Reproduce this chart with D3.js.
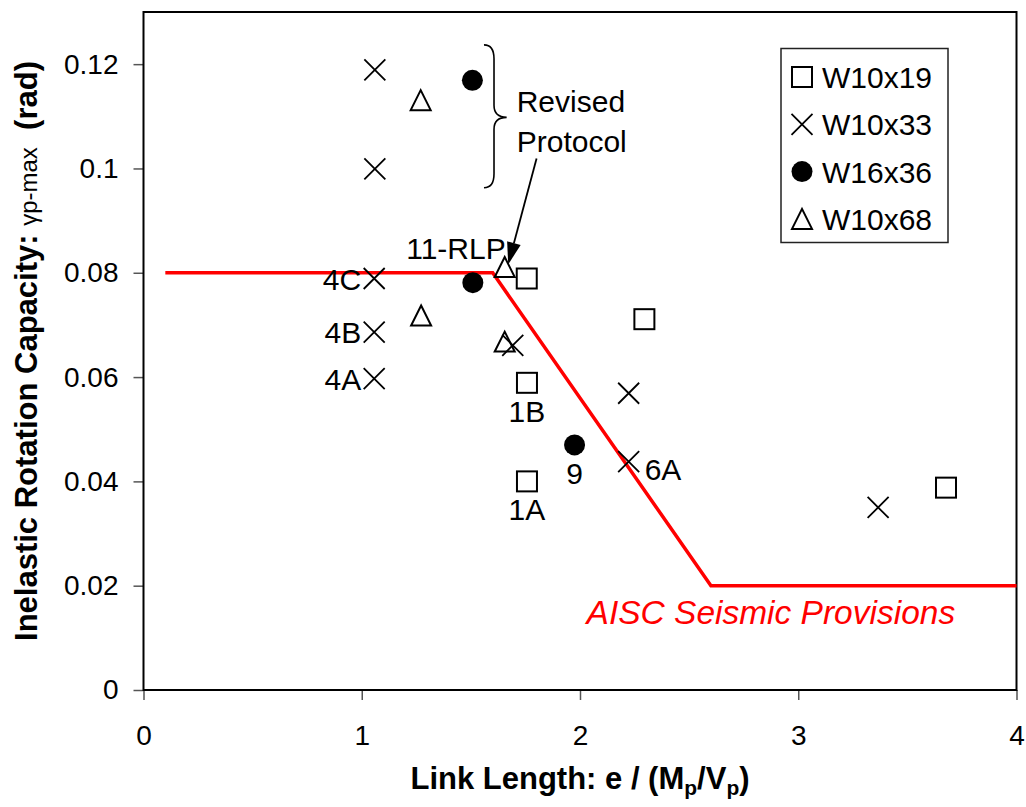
<!DOCTYPE html>
<html><head><meta charset="utf-8">
<script src="https://cdn.jsdelivr.net/npm/d3@7"></script>
<style>
body{margin:0;background:#fff}
svg{display:block}
text{font-family:"Liberation Sans",Arial,sans-serif;fill:#000}
</style>
</head><body>
<svg id="chart" width="1026" height="807"></svg>
<script>
// ---------------- data ----------------
const seriesNames = ["W10x19", "W10x33", "W16x36", "W10x68"];
const w10x19 = [[1.756,0.0789],[2.295,0.0711],[1.757,0.0589],[1.757,0.0400],[3.677,0.0388]];
const w10x33 = [[1.060,0.1189],[1.060,0.0999],[1.057,0.0789],[1.057,0.0686],[1.057,0.0597],
                [1.692,0.0661],[2.223,0.0569],[2.223,0.0438],[3.366,0.0350]];
const w16x36 = [[1.507,0.1169],[1.509,0.0781],[1.975,0.0470]];
const w10x68 = [[1.270,0.1131],[1.655,0.0811],[1.272,0.0718],[1.655,0.0668]];
const aiscLimit = [[0.1,0.08],[1.6,0.08],[2.6,0.02],[4,0.02]];
const xTickValues = [0,1,2,3,4];
const xTickLabels = ["0","1","2","3","4"];
const yTickValues = [0,0.02,0.04,0.06,0.08,0.1,0.12];
const yTickLabels = ["0","0.02","0.04","0.06","0.08","0.1","0.12"];
// specimen labels: text, the point it belongs to, side
const labelTexts  = ["4C","4B","4A","1B","1A","9","6A","11-RLP"];
const labelPoints = [[1.057,0.0789],[1.057,0.0686],[1.057,0.0597],[1.757,0.0589],[1.757,0.0400],[1.975,0.0470],[2.223,0.0438],[1.655,0.0811]];
const labelSides  = ["left","left","left","below","below","below","right","aboveleft"];

// ---------------- layout ----------------
const svg = d3.select("#chart");
const L = 143.5, R = 1016.5, T = 12, B = 690;
const x = d3.scaleLinear().domain([0,4]).range([L,R]);
const y = d3.scaleLinear().domain([0,0.13]).range([B,T]);

// axes (ticks + labels)
const xAxis = d3.axisBottom(x).tickValues(xTickValues).tickFormat((d,i)=>xTickLabels[i]).tickSize(10).tickPadding(25);
const yAxis = d3.axisLeft(y).tickValues(yTickValues).tickFormat((d,i)=>yTickLabels[i]).tickSize(10).tickPadding(15);
const gx = svg.append("g").attr("transform",`translate(0,${B})`).call(xAxis);
const gy = svg.append("g").attr("transform",`translate(${L},0)`).call(yAxis);
[gx,gy].forEach(g=>{
  g.select(".domain").remove();
  g.selectAll(".tick line").attr("stroke","#555").attr("stroke-width",1.5);
  g.selectAll(".tick text").attr("font-size",28).attr("font-family","Liberation Sans, Arial, sans-serif").attr("fill","#000");
});

// frame
svg.append("rect").attr("x",L).attr("y",T).attr("width",R-L).attr("height",B-T)
  .attr("fill","none").attr("stroke","#000").attr("stroke-width",2);

// AISC line
svg.append("path").datum(aiscLimit)
  .attr("d", d3.line().x(d=>x(d[0])).y(d=>y(d[1])))
  .attr("fill","none").attr("stroke","#ff0000").attr("stroke-width",3.5).attr("stroke-linejoin","miter");

// marker drawing
const S = 10.5; // half size
function drawMarker(g, kind){
  if(kind===0){
    g.append("rect").attr("x",-S+0.5).attr("y",-S+0.5).attr("width",2*S-1).attr("height",2*S-1)
     .attr("fill","none").attr("stroke","#000").attr("stroke-width",2);
  } else if(kind===1){
    g.append("path").attr("d",`M${-S},${-S}L${S},${S}M${-S},${S}L${S},${-S}`)
     .attr("stroke","#000").attr("stroke-width",1.8).attr("fill","none");
  } else if(kind===2){
    g.append("circle").attr("r",S).attr("fill","#000");
  } else {
    g.append("path").attr("d",`M0,${-S+0.5}L${S-0.5},${S-0.5}L${-S+0.5},${S-0.5}Z`)
     .attr("fill","none").attr("stroke","#000").attr("stroke-width",2).attr("stroke-linejoin","miter");
  }
}
const allSeries = [w10x19,w10x33,w16x36,w10x68];
allSeries.forEach((data,k)=>{
  svg.append("g").selectAll("g").data(data).join("g")
    .attr("transform",d=>`translate(${x(d[0])},${y(d[1])})`)
    .each(function(){ drawMarker(d3.select(this),k); });
});

// specimen labels
labelTexts.forEach((t,i)=>{
  const px = x(labelPoints[i][0]), py = y(labelPoints[i][1]);
  const side = labelSides[i];
  const txt = svg.append("text").attr("font-size",30).text(t);
  if(side==="left"){ txt.attr("x",px-13).attr("y",py+11).attr("text-anchor","end"); }
  else if(side==="below"){ txt.attr("x",px).attr("y",py+39).attr("text-anchor","middle"); }
  else if(side==="right"){ txt.attr("x",px+16).attr("y",py+18).attr("text-anchor","start"); }
  else { txt.attr("x",px+1).attr("y",py-8).attr("text-anchor","end"); }
});

// Revised protocol annotation: brace + text + arrow
const bx0 = x(1.56), bx1 = x(1.606), btip = x(1.664);
const byTop = y(0.1237), byTip = y(0.1098), byBot = y(0.0963);
svg.append("path")
  .attr("d",`M${bx0},${byTop} Q${bx1},${byTop} ${bx1},${byTop+14} L${bx1},${byTip-12} Q${bx1},${byTip} ${btip},${byTip} Q${bx1},${byTip} ${bx1},${byTip+12} L${bx1},${byBot-14} Q${bx1},${byBot} ${bx0},${byBot}`)
  .attr("fill","none").attr("stroke","#000").attr("stroke-width",1.6);
svg.append("text").attr("x",x(1.71)).attr("y",y(0.1098)-5.5).attr("font-size",30).text("Revised");
svg.append("text").attr("x",x(1.71)).attr("y",y(0.1098)+34.5).attr("font-size",30).text("Protocol");
const ax0 = x(1.801), ay0 = y(0.1019), ax1 = x(1.671), ay1 = y(0.0816);
const ang = Math.atan2(ay1-ay0, ax1-ax0), hl = 22, hw = 7;
const bxA = ax1 - hl*Math.cos(ang), byA = ay1 - hl*Math.sin(ang);
svg.append("line").attr("x1",ax0).attr("y1",ay0).attr("x2",bxA).attr("y2",byA).attr("stroke","#000").attr("stroke-width",1.8);
svg.append("path")
  .attr("d",`M${ax1},${ay1}L${bxA - hw*Math.sin(ang)},${byA + hw*Math.cos(ang)}L${bxA + hw*Math.sin(ang)},${byA - hw*Math.cos(ang)}Z`)
  .attr("fill","#000");

// AISC text
svg.append("text").attr("x",x(2.03)).attr("y",y(0.0127)).attr("font-size",33.5).attr("font-style","italic")
  .style("fill","#ff0000").text("AISC Seismic Provisions");

// legend
const lg = svg.append("g");
lg.append("rect").attr("x",781).attr("y",48.5).attr("width",167).attr("height",194)
  .attr("fill","#fff").attr("stroke","#222").attr("stroke-width",1.5);
seriesNames.forEach((n,i)=>{
  const cy = 77 + i*47.3;
  const g = lg.append("g").attr("transform",`translate(802,${cy})`);
  drawMarker(g,i);
  lg.append("text").attr("x",822).attr("y",cy+11).attr("font-size",30).text(n);
});

// axis titles
const xt = svg.append("text").attr("x",(L+R)/2).attr("y",789).attr("text-anchor","middle")
  .attr("font-size",31).attr("font-weight","bold");
xt.append("tspan").text("Link Length: e / (M");
xt.append("tspan").attr("font-size",21).attr("dy",6).text("p");
xt.append("tspan").attr("dy",-6).text("/V");
xt.append("tspan").attr("font-size",21).attr("dy",6).text("p");
xt.append("tspan").attr("dy",-6).text(")");

const yt = svg.append("text").attr("transform",`translate(36.5,351) rotate(-90)`)
  .attr("text-anchor","middle").attr("font-size",31).attr("font-weight","bold").style("white-space","pre");
yt.append("tspan").text("Inelastic Rotation Capacity: ");
yt.append("tspan").attr("font-weight","normal").attr("font-size",24).text("γp-max");
yt.append("tspan").text("  (rad)");
</script>
</body></html>
